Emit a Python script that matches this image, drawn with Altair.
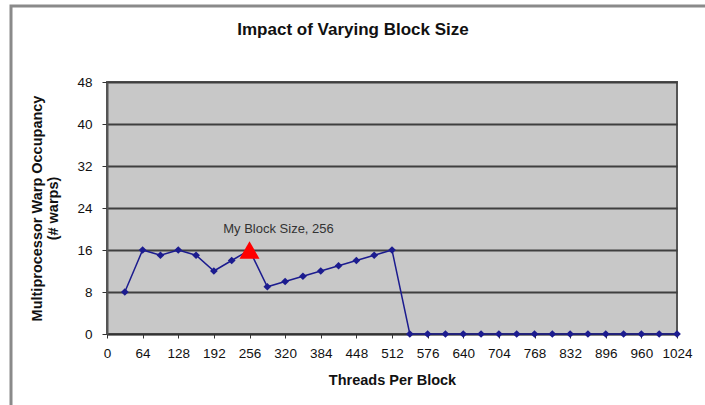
import altair as alt
import pandas as pd

# Threads per block (multiples of 32) and resulting warp occupancy
threads = [32, 64, 96, 128, 160, 192, 224, 256, 288, 320, 352, 384, 416, 448,
           480, 512, 544, 576, 608, 640, 672, 704, 736, 768, 800, 832, 864,
           896, 928, 960, 992, 1024]
warps = [8, 16, 15, 16, 15, 12, 14, 16, 9, 10, 11, 12, 13, 14,
         15, 16, 0, 0, 0, 0, 0, 0, 0, 0, 0, 0, 0,
         0, 0, 0, 0, 0]

my_block = [256]
my_warps = [16]
my_label = ["My Block Size, 256"]

chart_title = ["Impact of Varying Block Size"]

x_ticks = list(range(0, 1025, 64))
y_ticks = list(range(0, 49, 8))

df = pd.DataFrame({"threads": threads, "warps": warps})
pick = pd.DataFrame({"threads": my_block, "warps": my_warps, "label": my_label})
heading = pd.DataFrame({"text": chart_title})

FONT = "Liberation Sans"
NAVY = "#1c1c8f"

x_scale = alt.Scale(domain=[0, 1024], nice=False, zero=False)
y_scale = alt.Scale(domain=[0, 48], nice=False)

x_axis = alt.Axis(values=x_ticks, format="d", title="Threads Per Block", grid=False,
                  labelFont=FONT, labelFontSize=13.5, labelColor="#111",
                  labelPadding=8, labelOverlap=False, labelFlush=False,
                  tickSize=4, tickColor="#333", domainColor="#333",
                  domainWidth=1.5, titleFont=FONT, titleFontSize=14.5,
                  titleFontWeight="bold", titleColor="#111", titlePadding=14)
y_axis = alt.Axis(values=y_ticks, title=["Multiprocessor Warp Occupancy", "(# warps)"],
                  grid=True, gridColor="#3f3f3f", gridWidth=2,
                  labelFont=FONT, labelFontSize=13.5, labelColor="#111",
                  labelPadding=10, labelOverlap=False, tickSize=5, tickColor="#333",
                  domainColor="#555", domainWidth=2, titleFont=FONT, titleFontSize=14.5,
                  titleFontWeight="bold", titleColor="#111", titlePadding=16,
                  titleLineHeight=16)

x_enc = alt.X("threads:Q", scale=x_scale, axis=x_axis)
y_enc = alt.Y("warps:Q", scale=y_scale, axis=y_axis)

base = alt.Chart(df)

line = base.mark_line(color=NAVY, strokeWidth=1.5).encode(x=x_enc, y=y_enc)
dots = base.mark_point(shape="diamond", filled=True, size=60, color=NAVY,
                       opacity=1).encode(x=x_enc, y=y_enc)

marker = alt.Chart(pick).mark_point(shape="triangle-up", filled=True, size=400,
                                    color="#ff0000", opacity=1).encode(x=x_enc, y=y_enc)
note = alt.Chart(pick).mark_text(font=FONT, fontSize=13, color="#333",
                                 dx=29, dy=-21).encode(x=x_enc, y=y_enc, text="label:N")

# outer chart frame
frame = alt.Chart(pick).mark_rect(fill="transparent", stroke="#8a8a8a",
                                  strokeWidth=3).encode(
    x=alt.value(-96), x2=alt.value(620), y=alt.value(-76), y2=alt.value(340))

title = alt.Chart(heading).mark_text(font=FONT, fontSize=17, fontWeight="bold",
                                     color="#111", align="center",
                                     baseline="middle").encode(
    x=alt.value(246), y=alt.value(-52), text="text:N")

chart = alt.layer(line, dots, marker, note, frame, title).properties(
    width=570, height=252,
    background="white",
    autosize=alt.AutoSizeParams(type="none"),
    padding={"left": 107, "top": 82, "right": 28, "bottom": 71},
).configure_view(
    fill="#c8c8c8", stroke="#555555", strokeWidth=2
)

chart.save("out.html", embed_options={"renderer": "svg", "actions": False})
